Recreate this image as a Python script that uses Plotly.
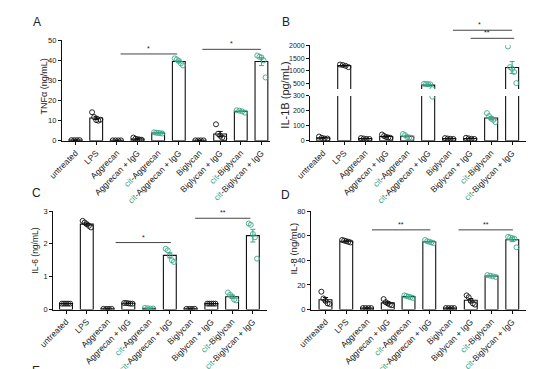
import numpy as np
import plotly.graph_objects as go

W, H = 553, 369
OFF = 8  # page body margin of the viewing browser
GREEN = "#3aa98a"
BLACK = "#111111"

CATS = ["untreated", "LPS", "Aggrecan", "Aggrecan + IgG", "cit-Aggrecan",
        "cit-Aggrecan + IgG", "Biglycan", "Biglycan + IgG", "cit-Biglycan",
        "cit-Biglycan + IgG"]
IS_CIT = [False, False, False, False, True, True, False, False, True, True]

# ---- data ----
TNF = [
    [0.3, 0.3, 0.3, 0.3],
    [14.2, 11.8, 10.3, 10.0, 10.5],
    [0.2, 0.2, 0.2, 0.2],
    [1.6, 1.0, 0.8, 0.6, 0.5],
    [4.2, 4.0, 3.9, 3.8, 3.6],
    [41.0, 40.5, 39.8, 38.5, 37.5],
    [0.2, 0.2, 0.2, 0.2],
    [8.2, 3.5, 2.5, 1.5, 1.2],
    [15.2, 15.0, 14.6, 14.0],
    [42.4, 41.8, 41.5, 40.0, 31.5],
]
IL1B = [
    [28, 20, 15, 15],
    [1250, 1230, 1200, 1150],
    [18, 15, 12, 12],
    [42, 32, 25, 22, 20],
    [45, 38, 25, 22, 20],
    [505, 495, 490, 485, 295],
    [18, 15, 13, 12],
    [20, 16, 13, 12],
    [185, 165, 148, 140, 125],
    [1950, 1150, 1080, 960, 530],
]
IL6 = [
    [0.18, 0.18, 0.18, 0.18, 0.18],
    [2.7, 2.65, 2.6, 2.55, 2.5],
    [0.02, 0.02, 0.02, 0.02],
    [0.2, 0.2, 0.19, 0.18, 0.18],
    [0.05, 0.04, 0.03, 0.03],
    [1.85, 1.8, 1.65, 1.5, 1.45],
    [0.02, 0.02, 0.02, 0.02],
    [0.18, 0.18, 0.18, 0.18, 0.18],
    [0.52, 0.45, 0.4, 0.3, 0.28],
    [2.62, 2.58, 2.3, 2.2, 1.55],
]
IL8 = [
    [14.5, 9, 7, 5, 4.5],
    [56.5, 56, 55.5, 55, 54.5],
    [1.2, 1.2, 1.2, 1.2],
    [8.5, 6, 5, 4, 3.5],
    [11.5, 11, 10.5, 10, 9.5],
    [56.5, 55.5, 55, 54.5, 54],
    [1.2, 1.2, 1.2, 1.2],
    [11.5, 10, 7, 5, 4],
    [28, 27.5, 27, 26.5],
    [59, 58.5, 58, 57.5, 50.5],
]

# significance brackets: (x0, x1, y, label)
SIG_A = [(2.18, 4.92, 43.2, "*"), (6.14, 8.97, 45.5, "*")]
SIG_B = [(6.18, 9.0, 2578, "*"), (7.02, 9.1, 2265, "**")]
SIG_C = [(2.39, 5.05, 2.04, "*"), (6.22, 8.88, 2.78, "**")]
SIG_D = [(2.24, 5.05, 64.7, "**"), (6.41, 9.03, 64.7, "**")]

Y_TITLES = ["TNF\u03b1 (ng/mL)", "IL-1B (pg/mL)", "IL-6 (ng/mL)", "IL-8 (ng/mL)"]
LETTERS = ["A", "B", "C", "D", "E"]

# ---- layout geometry (screen pixels -> paper fractions) ----
def px_x(p):
    return (p - OFF) / W

def px_y(p):
    return 1 - (p - OFF) / H

def tick_label(c):
    if c.startswith("cit-"):
        return '<span style="color:%s">cit</span>-%s' % (GREEN, c[4:])
    return c

TICKTEXT = [tick_label(c) for c in CATS]

fig = go.Figure()

def add_panel(data, xa, ya):
    xs_b, xs_g, ys_b, ys_g = [], [], [], []
    means = [float(np.mean(d)) for d in data]
    sems = [float(np.std(d, ddof=1) / np.sqrt(len(d))) for d in data]
    fig.add_trace(go.Bar(
        x=list(range(len(CATS))), y=means, width=0.62,
        marker=dict(color="white", line=dict(color=BLACK, width=1.1)),
        xaxis=xa, yaxis=ya, showlegend=False, hoverinfo="skip"))
    for i, d in enumerate(data):
        n = len(d)
        offs = np.linspace(-0.2, 0.2, n) if n > 1 else [0]
        for o, v in zip(offs, d):
            if IS_CIT[i]:
                xs_g.append(i + o); ys_g.append(v)
            else:
                xs_b.append(i + o); ys_b.append(v)
    for flag, col in ((False, BLACK), (True, GREEN)):
        idx = [i for i in range(len(CATS)) if IS_CIT[i] == flag]
        fig.add_trace(go.Scatter(
            x=idx, y=[means[i] for i in idx], mode="markers",
            marker=dict(size=1, color="rgba(0,0,0,0)"),
            error_y=dict(type="data", array=[sems[i] for i in idx],
                         color=col, thickness=1, width=2.5),
            xaxis=xa, yaxis=ya, showlegend=False, hoverinfo="skip"))
    fig.add_trace(go.Scatter(
        x=xs_b, y=ys_b, mode="markers",
        marker=dict(symbol="circle-open", size=5, color=BLACK, line=dict(width=0.9)),
        xaxis=xa, yaxis=ya, showlegend=False, hoverinfo="skip"))
    fig.add_trace(go.Scatter(
        x=xs_g, y=ys_g, mode="markers",
        marker=dict(symbol="circle-open", size=5, color=GREEN, line=dict(width=0.9)),
        xaxis=xa, yaxis=ya, showlegend=False, hoverinfo="skip"))

add_panel(TNF, "x", "y")
add_panel(IL1B, "x2", "y2")
add_panel(IL1B, "x2", "y3")
add_panel(IL6, "x3", "y4")
add_panel(IL8, "x4", "y5")

FONT = "Arial, Liberation Sans, sans-serif"

def xaxis(dom_px, rng, anchor):
    return dict(domain=[px_x(dom_px[0]), px_x(dom_px[1])], range=rng, anchor=anchor,
                tickmode="array", tickvals=list(range(len(CATS))), ticktext=TICKTEXT,
                tickangle=-45, ticks="outside", ticklen=3, tickwidth=1, tickcolor=BLACK,
                showline=True, linecolor=BLACK, linewidth=1, showgrid=False,
                zeroline=False, tickfont=dict(size=8.5, color="#222", family=FONT))

def yaxis(dom_px, rng, anchor, tickvals, fs=7.5):
    return dict(domain=[px_y(dom_px[1]), px_y(dom_px[0])], range=rng, anchor=anchor,
                tickmode="array", tickvals=tickvals, ticks="outside", ticklen=3,
                tickwidth=1, tickcolor=BLACK, showline=True, linecolor=BLACK,
                linewidth=1, showgrid=False, zeroline=False,
                tickfont=dict(size=fs, color="#222", family=FONT))

XR_A = [-0.66, 9.42]
XR_B = [-0.63, 9.66]
XR_C = [-0.62, 9.69]
XR_D = [-0.70, 9.66]
YR_B_UP = [300, 2000]

fig.update_layout(
    width=W, height=H, margin=dict(l=0, r=0, t=0, b=0),
    paper_bgcolor="white", plot_bgcolor="white", showlegend=False,
    font=dict(family=FONT, color="#222"),
    xaxis=xaxis((48, 262), XR_A, "y"),
    yaxis=yaxis((37, 140), [0, 50], "x", [0, 10, 20, 30, 40, 50]),
    xaxis2=xaxis((303, 525), XR_B, "y2"),
    yaxis2=yaxis((94, 140), [0, 300], "x2", [0, 100, 200, 300], 7),
    yaxis3=yaxis((42, 87), YR_B_UP, "x2", [500, 1000, 1500, 2000], 7),
    xaxis3=xaxis((39, 259), XR_C, "y4"),
    yaxis4=yaxis((212, 313), [0, 3], "x3", [0, 1, 2, 3]),
    xaxis4=xaxis((304, 525), XR_D, "y5"),
    yaxis5=yaxis((212, 313), [0, 80], "x4", [0, 20, 40, 60, 80]),
)

shapes, annos = [], []

def add_sig(sigs, xref, yref):
    for x0, x1, y, t in sigs:
        shapes.append(dict(type="line", xref=xref, yref=yref, x0=x0, x1=x1, y0=y, y1=y,
                           line=dict(color="#444", width=1)))
        annos.append(dict(xref=xref, yref=yref, x=(x0 + x1) / 2, y=y, text=t,
                          showarrow=False, yanchor="bottom", yshift=0,
                          font=dict(size=7, color="#222", family=FONT)))

add_sig(SIG_A, "x", "y")
add_sig(SIG_C, "x3", "y4")
add_sig(SIG_D, "x4", "y5")
# panel B brackets sit above the axis: use domain references
sig_b_dom = [((x0 - XR_B[0]) / (XR_B[1] - XR_B[0]), (x1 - XR_B[0]) / (XR_B[1] - XR_B[0]),
              (y - YR_B_UP[0]) / (YR_B_UP[1] - YR_B_UP[0]), t) for x0, x1, y, t in SIG_B]
add_sig(sig_b_dom, "x2 domain", "y3 domain")

# y-axis titles
TITLE_POS = [(30, 84), (277, 93), (20, 253), (286, 250)]
TITLE_SIZE = [9, 11, 8.5, 9.5]
for txt, (xp, yp), fs in zip(Y_TITLES, TITLE_POS, TITLE_SIZE):
    annos.append(dict(xref="paper", yref="paper", x=px_x(xp), y=px_y(yp), text=txt,
                      textangle=-90, showarrow=False, xanchor="center", yanchor="middle",
                      font=dict(size=fs, color="#222", family=FONT)))

# panel letters
for t, (xp, yp) in zip(LETTERS, [(22, 18), (278, 18), (22, 194), (278, 196), (21, 376)]):
    annos.append(dict(xref="paper", yref="paper", x=px_x(xp), y=px_y(yp), text=t,
                      showarrow=False, xanchor="center", yanchor="middle",
                      font=dict(size=12, color="#222", family=FONT)))

fig.update_layout(shapes=shapes, annotations=annos)
fig.write_html("out.html")
